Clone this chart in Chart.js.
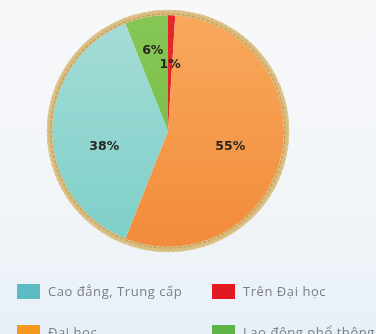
<!DOCTYPE html>
<html>
<head>
<meta charset="utf-8">
<script src="https://cdn.jsdelivr.net/npm/chart.js@4/dist/chart.umd.min.js"></script>
<style>
  html, body { margin:0; padding:0; }
  body { width:376px; height:334px; overflow:hidden; position:relative;
         background: linear-gradient(180deg, #f7f8fa 0%, #f2f5f8 60%, #e7f0f7 100%); }
  #wrap { position:absolute; left:0; top:0; width:336px; height:262px; }
  #legend { position:absolute; left:0; top:0; width:376px; height:334px; pointer-events:none; }
  .item { position:absolute; height:16px; display:flex; align-items:center; white-space:nowrap;
          font-family:"Open Sans", sans-serif; font-size:13px; color:#7a7f85; letter-spacing:0.55px; }
  .box { width:23px; height:15px; margin-right:8px; flex:none; }
</style>
</head>
<body>
<div id="wrap"><canvas id="c"></canvas></div>
<div id="legend"></div>
<script>
const categories = ['Trên Đại học', 'Đại học', 'Cao đẳng, Trung cấp', 'Lao động phổ thông'];
const values = [1, 55, 38, 6];
const valueLabels = ['1%', '55%', '38%', '6%'];
const sliceColors = [['#e8262a', '#e02024'], ['#f8a95c', '#f28b3b'], ['#a6dcd8', '#7ccfc7'], ['#86c655', '#74b944']];
const legendColors = ['#e2191f', '#f7981f', '#5bbcc4', '#5fb447'];
const legendOrder = [2, 0, 1, 3];

const ringPlugin = {
  id: 'ring',
  afterDatasetsDraw(chart) {
    const arc = chart.getDatasetMeta(0).data[0];
    if (!arc) return;
    const ctx = chart.ctx;
    const { x, y, outerRadius } = arc.getProps(['x', 'y', 'outerRadius'], true);
    ctx.save();
    ctx.beginPath(); ctx.arc(x, y, outerRadius + 2.5, 0, Math.PI * 2);
    ctx.lineWidth = 5.5; ctx.strokeStyle = '#d9bd80'; ctx.stroke();
    ctx.beginPath(); ctx.arc(x, y, outerRadius + 1, 0, Math.PI * 2);
    ctx.lineWidth = 1.2; ctx.strokeStyle = '#c49d55'; ctx.setLineDash([3, 2]); ctx.stroke();
    ctx.beginPath(); ctx.arc(x, y, outerRadius + 4.5, 0, Math.PI * 2);
    ctx.lineWidth = 1; ctx.strokeStyle = '#e8d6ad'; ctx.setLineDash([2, 3]); ctx.stroke();
    ctx.restore();
  }
};

const labelPlugin = {
  id: 'sliceLabels',
  afterDatasetsDraw(chart, args, opts) {
    const ctx = chart.ctx;
    chart.getDatasetMeta(0).data.forEach((el, i) => {
      const p = el.getProps(['x', 'y', 'startAngle', 'endAngle', 'outerRadius'], true);
      const mid = (p.startAngle + p.endAngle) / 2;
      const r = p.outerRadius * opts.radius[i];
      const lx = p.x + Math.cos(mid) * r;
      const ly = p.y + Math.sin(mid) * r + opts.dy[i];
      ctx.save();
      ctx.font = 'bold 12.5px "DejaVu Sans", sans-serif';
      ctx.fillStyle = '#262520';
      ctx.textAlign = 'center';
      ctx.textBaseline = 'middle';
      ctx.fillText(valueLabels[i], lx, ly);
      ctx.restore();
    });
  }
};

function sliceGradient(ctx) {
  const chart = ctx.chart;
  const area = chart.chartArea;
  const c = sliceColors[ctx.dataIndex];
  if (!area) return c[0];
  const g = chart.ctx.createLinearGradient(0, area.top, 0, area.bottom);
  g.addColorStop(0, c[0]);
  g.addColorStop(1, c[1]);
  return g;
}

new Chart(document.getElementById('c'), {
  type: 'pie',
  data: {
    labels: categories,
    datasets: [{
      data: values,
      backgroundColor: sliceGradient,
      borderWidth: 0
    }]
  },
  options: {
    responsive: true,
    maintainAspectRatio: false,
    animation: false,
    layout: { padding: 15 },
    plugins: {
      legend: { display: false },
      tooltip: { enabled: false },
      sliceLabels: { radius: [0.57, 0.55, 0.55, 0.70], dy: [0, 2, 16, 0] }
    }
  },
  plugins: [ringPlugin, labelPlugin]
});

const legend = document.getElementById('legend');
const colX = [17, 212];
const rowY = [283, 324];
legendOrder.forEach((idx, k) => {
  const d = document.createElement('div');
  d.className = 'item';
  d.style.left = colX[k % 2] + 'px';
  d.style.top = rowY[Math.floor(k / 2)] + 'px';
  const b = document.createElement('span');
  b.className = 'box';
  b.style.background = legendColors[idx];
  const t = document.createElement('span');
  t.textContent = categories[idx];
  d.appendChild(b); d.appendChild(t);
  legend.appendChild(d);
});
</script>
</body>
</html>
